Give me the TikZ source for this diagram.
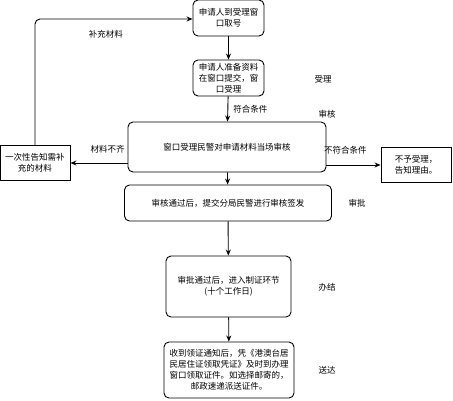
\documentclass[tikz,border=0pt]{standalone}
\usepackage{fontspec}
\setmainfont{Noto Sans CJK SC}
\usepackage{tikz}
\usetikzlibrary{arrows.meta}

\tikzset{
    box/.style={draw, line width=0.9pt, rounded corners=5pt, align=center,
        inner sep=1pt, font=\fontsize{8.5}{11}\selectfont},
    sidebox/.style={draw, line width=0.9pt, align=center, inner sep=1pt,
        font=\fontsize{8.5}{11}\selectfont},
    lbl/.style={font=\fontsize{8.5}{11}\selectfont, inner sep=0pt},
    arr/.style={line width=0.9pt, -{Stealth[length=6pt,width=5pt]}},
}

\begin{document}
\begin{tikzpicture} [ x=1pt, y=-1pt, ]
    \useasboundingbox (0,0) rectangle (453,400);

    % main column
    \node[box, minimum width=71, minimum height=36] (take) at (228.5,18) {申请人到受理窗\\口取号};
    \node[box, minimum width=71, minimum height=36] (submit) at (228.5,78) {申请人准备资料\\在窗口提交，窗\\口受理};
    \node[box, minimum width=198, minimum height=50] (check) at (227,147) {窗口受理民警对申请材料当场审核};
    \node[box, minimum width=207, minimum height=36] (sign) at (228,203) {审核通过后，提交分局民警进行审核签发};
    \node[box, minimum width=125, minimum height=61] (make) at (228.5,286.5) {审批通过后，进入制证环节\\(十个工作日)};
    \node[box, minimum width=130, minimum height=56] (deliver) at (229,370) {收到领证通知后，凭《港澳台居\\民居住证领取凭证》及时到办理\\窗口领取证件。如选择邮寄的，\\邮政速递派送证件。};

    % side boxes
    \node[sidebox, minimum width=70, minimum height=35] (more) at (35,163) {一次性告知需补\\充的材料};
    \node[sidebox, minimum width=70, minimum height=35] (reject) at (416,165) {不予受理，\\告知理由。};

    % stage labels
    \node[lbl] (stA) at (323,79) {受理};
    \node[lbl] (stB) at (327,114) {审核};
    \node[lbl] (stC) at (357,203) {审批};
    \node[lbl] (stD) at (327,287) {办结};
    \node[lbl] (stE) at (327,370) {送达};

    \coordinate (corner) at (35,19);

    \draw[arr] (take) -- (submit);
    \draw[arr] (submit) -- node[lbl, right=5pt] {符合条件} (check);
    \draw[arr] (check) -- (sign);
    \draw[arr] (sign) -- (make);
    \draw[arr] (make) -- (deliver);
    \draw[arr] (check.west |- more.east) -- node[lbl, above=9pt, pos=0.35] {材料不齐} (more.east);
    \draw[arr] (check.east |- reject.west) -- node[lbl, above=10pt, pos=0.35] {不符合条件} (reject.west);
    \draw[arr, rounded corners=5pt] (more.north) -- (corner) -- node[lbl, below=11pt, pos=0.45] {补充材料} (take.west |- corner);

\end{tikzpicture}
\end{document}
